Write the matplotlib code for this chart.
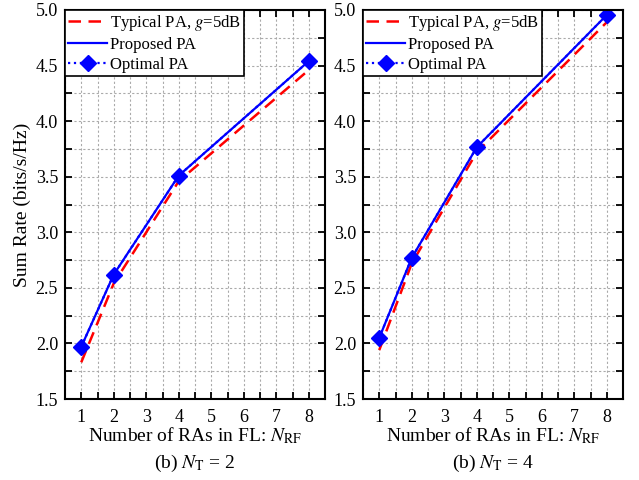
import matplotlib
matplotlib.use("Agg")
import matplotlib.pyplot as plt
from matplotlib.ticker import MultipleLocator

plt.rcParams['font.family'] = ['Liberation Serif', 'DejaVu Serif']
plt.rcParams['mathtext.fontset'] = 'stix'

n_rf = [1, 2, 4, 8]

# N_T = 2
typical_2 = [1.83, 2.54, 3.46, 4.46]
proposed_2 = [1.97, 2.62, 3.51, 4.54]
optimal_2 = [1.97, 2.62, 3.51, 4.54]

# N_T = 4
typical_4 = [1.94, 2.72, 3.72, 4.89]
proposed_4 = [2.05, 2.77, 3.765, 4.955]
optimal_4 = [2.05, 2.77, 3.765, 4.955]

panels = [
    (typical_2, proposed_2, optimal_2, r'(b) $N_{\rm T}$ = 2'),
    (typical_4, proposed_4, optimal_4, r'(b) $N_{\rm T}$ = 4'),
]

fig = plt.figure(figsize=(6.39, 4.8), dpi=100)
lefts = [65 / 639, 363 / 639]
w = 260 / 639
b = 81 / 480
h = 389 / 480

for i, (typ, prop, opt, sub) in enumerate(panels):
    ax = fig.add_axes([lefts[i], b, w, h])
    ax.plot(n_rf, typ, color='red', ls=(0, (5, 3)), lw=1.8,
            label=r'Typical PA, $g$=5dB')
    ax.plot(n_rf, prop, color='blue', ls='-', lw=1.6, label='Proposed PA')
    ax.plot(n_rf, opt, color='blue', ls=':', lw=1.6, marker='D',
            markersize=8, label='Optimal PA')

    ax.set_xlim(0.5, 8.5)
    ax.set_ylim(1.5, 5.0)
    ax.xaxis.set_major_locator(MultipleLocator(1))
    ax.xaxis.set_minor_locator(MultipleLocator(0.5))
    ax.yaxis.set_major_locator(MultipleLocator(0.5))
    ax.yaxis.set_minor_locator(MultipleLocator(0.25))
    ax.yaxis.set_major_formatter(matplotlib.ticker.FormatStrFormatter('%.1f'))
    ax.grid(True, which='both', color='#aaaaaa', ls=(0, (2, 2)), lw=0.8)
    ax.tick_params(which='both', direction='in', top=True, right=True,
                   length=5, width=1.3, labelsize=13)
    ax.tick_params(axis='x', pad=7)
    ax.tick_params(axis='y', pad=5)
    for s in ax.spines.values():
        s.set_linewidth(1.5)

    ax.set_xlabel(r'Number of RAs in FL: $N_{\rm RF}$', fontsize=14, labelpad=0)
    if i == 0:
        ax.set_ylabel('Sum Rate (bits/s/Hz)', fontsize=14, labelpad=3)

    leg = ax.legend(loc='upper left', fontsize=12, borderaxespad=0,
                    fancybox=False, framealpha=1, edgecolor='black',
                    handlelength=2.3, handletextpad=0.2, labelspacing=0.22,
                    borderpad=0.2)
    leg.get_frame().set_linewidth(1.2)

    fig.text(lefts[i] + w / 2, 0.035, sub, ha='center', va='center', fontsize=14)

plt.savefig('out.png', dpi=100)
